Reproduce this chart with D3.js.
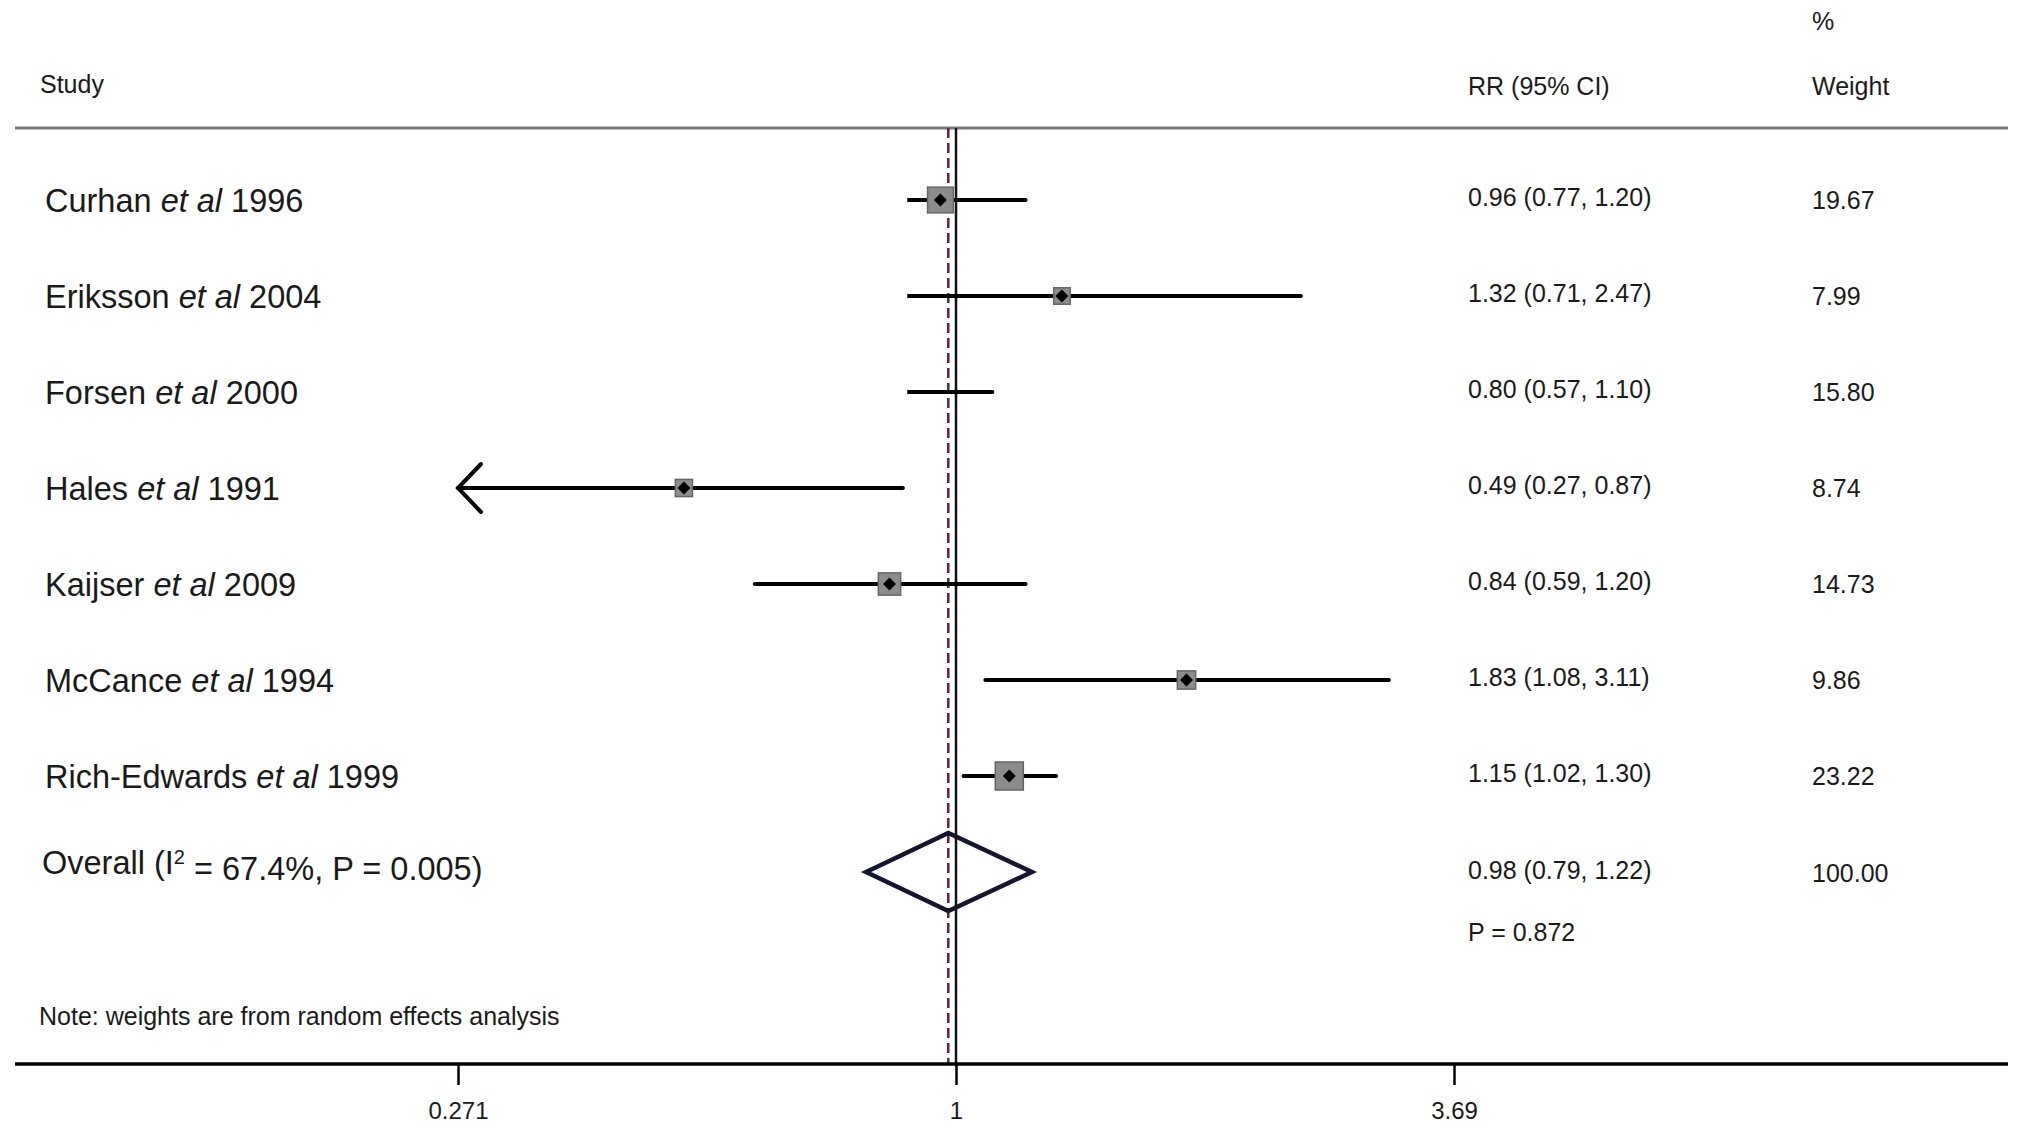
<!DOCTYPE html>
<html><head><meta charset="utf-8">
<script src="https://cdn.jsdelivr.net/npm/d3@7"></script>
<style>
body{margin:0;background:#fff;}
text{font-family:"Liberation Sans",Arial,sans-serif;fill:#1a1a1a;}
</style></head>
<body>
<svg id="chart" width="2025" height="1131"></svg>
<script>
// ---- data ----
const studies = ["Curhan", "Eriksson", "Forsen", "Hales", "Kaijser", "McCance", "Rich-Edwards"];
const years   = [1996, 2004, 2000, 1991, 2009, 1994, 1999];
const rr      = [0.96, 1.32, 0.80, 0.49, 0.84, 1.83, 1.15];
const ciLow   = [0.77, 0.71, 0.57, 0.27, 0.59, 1.08, 1.02];
const ciHigh  = [1.20, 2.47, 1.10, 0.87, 1.20, 3.11, 1.30];
const weights = [19.67, 7.99, 15.80, 8.74, 14.73, 9.86, 23.22];
const overallRR = [0.98], overallLow = [0.79], overallHigh = [1.22];
const overallLabel = ["Overall (I", "2", " = 67.4%, P = 0.005)"];
const overallP = "P = 0.872";
const tickValues = [0.271, 1, 3.69];
const tickLabels = ["0.271", "1", "3.69"];
// region of the original figure that appears blanked (rows 0-2, left of ~0.88)
const blankRows = [0, 2], blankTo = 0.88;

const svg = d3.select("#chart");
const x = d3.scaleLog().domain([0.271, 3.69]).range([458, 1454]);
const y = d3.scaleLinear().domain([0, 7]).range([200, 872]);
const boxSize = d3.scaleSqrt().domain([0, 23.22]).range([0, 28]);
const fmt = d3.format(".2f");

const left = 15, right = 2008, headY = 128, axisY = 1064;

// header texts
const hdr = svg.append("g").style("font-size", "25px").attr("fill", "#222");
hdr.append("text").attr("x", 40).attr("y", 93).text("Study");
hdr.append("text").attr("x", 1468).attr("y", 95).text("RR (95% CI)");
hdr.append("text").attr("x", 1812).attr("y", 30).text("%");
hdr.append("text").attr("x", 1812).attr("y", 95).text("Weight");

// header rule
svg.append("line").attr("x1", left).attr("x2", right).attr("y1", headY).attr("y2", headY)
  .attr("stroke", "#777").attr("stroke-width", 3);

// null line at 1
svg.append("line").attr("x1", x(1)).attr("x2", x(1)).attr("y1", headY).attr("y2", axisY)
  .attr("stroke", "#111").attr("stroke-width", 2.5);
// overall effect dashed line
svg.append("line").attr("x1", x(overallRR[0])).attr("x2", x(overallRR[0]))
  .attr("y1", headY).attr("y2", axisY)
  .attr("stroke", "#6a2038").attr("stroke-width", 2.5).attr("stroke-dasharray", "10,5");

// study rows
const rows = svg.append("g");
studies.forEach((s, i) => {
  const yy = y(i);
  const l = Math.max(ciLow[i], x.domain()[0]);
  rows.append("line").attr("x1", x(l)).attr("x2", x(ciHigh[i])).attr("y1", yy).attr("y2", yy)
    .attr("stroke", "#000").attr("stroke-width", 4).attr("stroke-linecap", "round");
  if (ciLow[i] < x.domain()[0]) {
    const tx = x(x.domain()[0]);
    rows.append("path").attr("d", `M${tx + 23},${yy - 24} L${tx},${yy} L${tx + 23},${yy + 24}`)
      .attr("fill", "none").attr("stroke", "#000").attr("stroke-width", 4).attr("stroke-linecap", "round");
  }
  const b = boxSize(weights[i]);
  rows.append("rect").attr("x", x(rr[i]) - b / 2).attr("y", yy - b / 2).attr("width", b).attr("height", b)
    .attr("fill", "#8c8c8c").attr("stroke", "#666").attr("stroke-width", 1.5);
  const cx = x(rr[i]), d = 6.5;
  rows.append("path").attr("d", `M${cx},${yy - d} L${cx + d},${yy} L${cx},${yy + d} L${cx - d},${yy} Z`)
    .attr("fill", "#000");
});

// blanked area as in source picture
svg.append("rect").attr("x", x(0.30)).attr("y", y(blankRows[0]) - 40)
  .attr("width", x(blankTo) - x(0.30)).attr("height", y(blankRows[1]) - y(blankRows[0]) + 80)
  .attr("fill", "#fff");

// study labels
const lab = svg.append("g").style("font-size", "32.5px");
studies.forEach((s, i) => {
  const t = lab.append("text").attr("x", 45).attr("y", y(i)).attr("dy", "0.36em");
  t.append("tspan").text(s + " ");
  t.append("tspan").style("font-style", "italic").text("et al");
  t.append("tspan").text(" " + years[i]);
});
// overall label
const ot = lab.append("text").attr("x", 42).attr("y", y(7) - 10).attr("dy", "0.36em");
ot.append("tspan").text(overallLabel[0]);
ot.append("tspan").attr("dy", "-0.5em").style("font-size", "20px").text(overallLabel[1]);
ot.append("tspan").attr("dy", "0.5em").text(overallLabel[2]);

// RR and weights columns
const col = svg.append("g").style("font-size", "25px");
studies.forEach((s, i) => {
  col.append("text").attr("x", 1468).attr("y", y(i) - 3).attr("dy", "0.36em")
    .text(`${fmt(rr[i])} (${fmt(ciLow[i])}, ${fmt(ciHigh[i])})`);
  col.append("text").attr("x", 1812).attr("y", y(i)).attr("dy", "0.36em").text(fmt(weights[i]));
});
col.append("text").attr("x", 1468).attr("y", y(7) - 2).attr("dy", "0.36em")
  .text(`${fmt(overallRR[0])} (${fmt(overallLow[0])}, ${fmt(overallHigh[0])})`);
col.append("text").attr("x", 1812).attr("y", y(7) + 1).attr("dy", "0.36em").text("100.00");
col.append("text").attr("x", 1468).attr("y", 932).attr("dy", "0.36em").text(overallP);

// overall diamond
const oy = y(7);
svg.append("path")
  .attr("d", `M${x(overallLow[0])},${oy} L${x(overallRR[0])},${oy - 39} L${x(overallHigh[0])},${oy} L${x(overallRR[0])},${oy + 39} Z`)
  .attr("fill", "none").attr("stroke", "#15152e").attr("stroke-width", 4.5).attr("stroke-linejoin", "miter");

// note
svg.append("text").attr("x", 39).attr("y", 1016).attr("dy", "0.36em").style("font-size", "25px")
  .text("Note: weights are from random effects analysis");

// axis
svg.append("line").attr("x1", left).attr("x2", right).attr("y1", axisY).attr("y2", axisY)
  .attr("stroke", "#000").attr("stroke-width", 3.5);
const ax = svg.append("g").attr("transform", `translate(0,${axisY})`)
  .call(d3.axisBottom(x).tickValues(tickValues).tickFormat((d, i) => tickLabels[i]).tickSize(21).tickPadding(17));
ax.select(".domain").remove();
ax.selectAll(".tick line").attr("stroke", "#000").attr("stroke-width", 2.5);
ax.selectAll(".tick text").style("font-size", "24px").attr("fill", "#222")
  .style("font-family", '"Liberation Sans",Arial,sans-serif');
</script>
</body></html>
